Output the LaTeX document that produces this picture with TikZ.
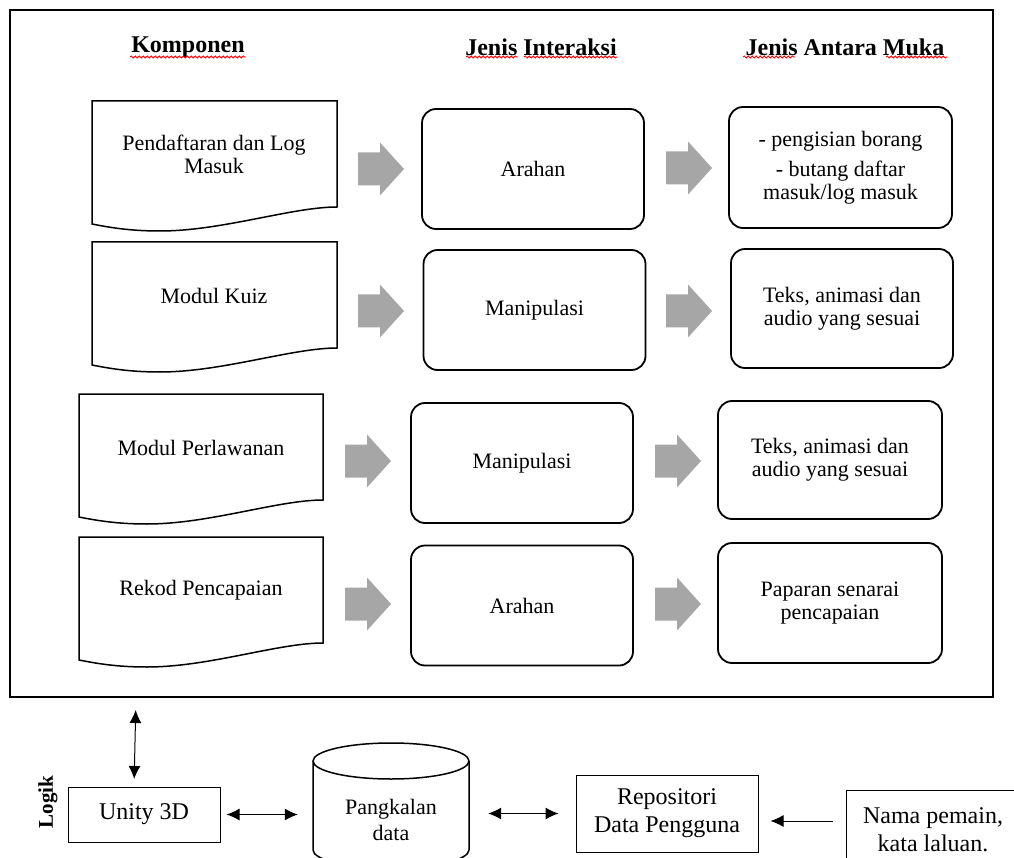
\documentclass[tikz,border=0pt]{standalone}
\usepackage{fontspec}
\setmainfont{Liberation Serif}
\usetikzlibrary{arrows.meta,decorations.pathmorphing}
\definecolor{arrowgray}{HTML}{A6A6A6}
\newcommand\docshape[3]{% x1, top, width
  \draw[docline] (#1,#2) -- ({#1+#3},#2) -- ({#1+#3},{#2+106})
    .. controls ({#1+#3-45},{#2+106}) and ({#1+130},{#2+130}) .. ({#1+68},{#2+130})
    .. controls ({#1+40},{#2+130}) and ({#1+20},{#2+127}) .. (#1,{#2+123}) -- cycle;}
\newcommand\blockarrow[2]{% left x, centre y
  \fill[arrowgray] (#1,{#2-16.5}) -- ({#1+22},{#2-16.5}) -- ({#1+22},{#2-26.5}) -- ({#1+46},#2)
    -- ({#1+22},{#2+26.5}) -- ({#1+22},{#2+16.5}) -- (#1,{#2+16.5}) -- cycle;}
\begin{document}
\begin{tikzpicture}[x=1pt,y=-1pt,
 body/.style={font=\fontsize{22}{23}\selectfont, align=center},
 hdr/.style={font=\fontsize{24}{26}\selectfont\bfseries, inner sep=0pt},
 rbox/.style={draw, line width=1.8pt, rounded corners=14pt, minimum width=222pt, minimum height=120pt, body, inner sep=0pt},
 docline/.style={line width=1.5pt},
 sbox/.style={draw, line width=1pt, inner sep=0pt, font=\fontsize{24}{28}\selectfont, align=center},
 dbl/.style={{Latex[length=13pt,width=12pt]}-{Latex[length=13pt,width=12pt]}, line width=1pt},
 arr/.style={-{Latex[length=13pt,width=12pt]}, line width=1pt},
 squig/.style={red, line width=0.8pt, decorate, decoration={snake, amplitude=1.1pt, segment length=4pt}},
]
\useasboundingbox (0,0) rectangle (1014,858);
\clip (0,0) rectangle (1014,858);

% outer frame
\node[draw, line width=2pt, minimum width=983pt, minimum height=687pt, inner sep=0pt] (frame) at (501.5,353.5) {};

% headers
\node[hdr] (h1) at (188,47) {Komponen};
\node[hdr] (h2) at (541,47) {Jenis Interaksi};
\node[hdr] (h3) at (845,47) {Jenis Antara Muka};
\draw[squig] (130,57) -- (246,57);
\draw[squig] (466,57) -- (518,57);
\draw[squig] (524,57) -- (617,57);
\draw[squig] (743,57) -- (795,57);
\draw[squig] (886,57) -- (947,57);

% component documents
\docshape{92}{101}{245}
\docshape{92}{242}{245}
\docshape{79}{394}{244}
\docshape{79}{537}{244}
\node[body] (c1) at (214,154) {Pendaftaran dan Log\\Masuk};
\node[body] (c2) at (214,296) {Modul Kuiz};
\node[body] (c3) at (201,448) {Modul Perlawanan};
\node[body] (c4) at (201,590) {Rekod Pencapaian};

% interaction boxes
\node[rbox] (m1) at (533,169) {Arahan};
\node[rbox] (m2) at (534.5,310) {Manipulasi};
\node[rbox] (m3) at (522,463) {Manipulasi};
\node[rbox] (m4) at (522,605.5) {Arahan};

% interface boxes
\node[rbox, minimum width=223pt, minimum height=121pt] (r1) at (840.5,167.5) {- pengisian borang\\[7pt]- butang daftar\\masuk/log masuk};
\node[rbox, minimum width=222pt, minimum height=119pt] (r2) at (842,308.5) {Teks, animasi dan\\audio yang sesuai};
\node[rbox, minimum width=224pt, minimum height=118pt] (r3) at (830,460) {Teks, animasi dan\\audio yang sesuai};
\node[rbox, minimum width=224pt, minimum height=120pt] (r4) at (830,603) {Paparan senarai\\pencapaian};

% block arrows
\blockarrow{358}{169}
\blockarrow{666}{168}
\blockarrow{358}{311}
\blockarrow{666}{311}
\blockarrow{345}{461}
\blockarrow{655}{461}
\blockarrow{345}{604}
\blockarrow{655}{604}

% bottom part
\node[sbox, minimum width=152pt, minimum height=55pt] (unity) at (144,814.5) {Unity 3D};
\node[font=\fontsize{21}{23}\selectfont\bfseries, rotate=90, inner sep=0pt] (logik) at (48,802) {Logik};

% database cylinder
\draw[line width=1.5pt] (313,761) -- (313,850) arc[start angle=180, end angle=0, x radius=78, y radius=18] -- (469,761);
\draw[line width=1.5pt] (391,761) ellipse [x radius=78, y radius=18];
\node[font=\fontsize{22}{26}\selectfont, align=center, minimum width=156pt, inner sep=0pt] (db) at (391,820) {Pangkalan\\data};

\node[sbox, minimum width=182pt, minimum height=77pt] (repo) at (667,813.5) {Repositori\\Data Pengguna};
\node[sbox, minimum width=174pt, minimum height=80pt] (nama) at (933,830) {Nama pemain,\\kata laluan.};

\coordinate (vtop) at (136,697);
\coordinate (vbot) at (134,787);
\draw[dbl, shorten <=13pt, shorten >=8pt] (vtop) -- (vbot);
\draw[dbl, shorten <=6pt, shorten >=15pt] (unity.east) -- (unity.east -| db.west);
\draw[dbl, shorten <=19pt, shorten >=17pt] (repo.west -| db.east) -- (repo.west);
\coordinate (nstart) at (846,821);
\draw[arr, shorten <=13pt, shorten >=12pt] (nstart) -- (repo.east |- nstart);
\end{tikzpicture}
\end{document}
